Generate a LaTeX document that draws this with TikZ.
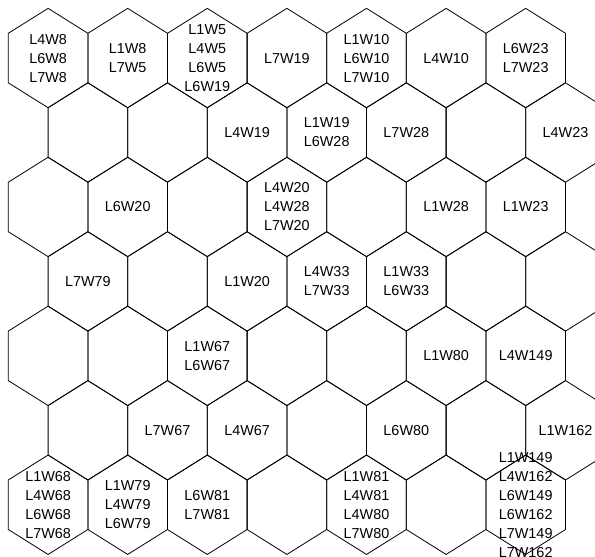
\documentclass[tikz,border=0pt]{standalone}
\usepackage{fontspec}
\setmainfont{Liberation Sans}
\begin{document}
\begin{tikzpicture}[x=1pt,y=-1pt,
  hexline/.style={draw=black,line width=0.8pt,line join=miter},
  lbl/.style={font=\fontsize{14.4}{19}\selectfont, align=center, inner sep=0pt, text=black}]
\useasboundingbox (0,0) rectangle (595,557);
\clip (0,0) rectangle (595,557);
\foreach \r in {0,...,6} {
  \foreach \k in {0,...,6} {
    \pgfmathsetmacro{\cy}{58.05+74.45*\r}
    \pgfmathsetmacro{\cx}{48.1+79.6*\k+39.8*mod(\r,2)}
    \draw[hexline] (\cx,\cy-49.7) -- (\cx+39.8,\cy-24.75) -- (\cx+39.8,\cy+24.75)
      -- (\cx,\cy+49.7) -- (\cx-39.8,\cy+24.75) -- (\cx-39.8,\cy-24.75) -- cycle;
  }
}
% row 0
\node[lbl] (h00) at (48.1,58.05) {L4W8\\L6W8\\L7W8};
\node[lbl] (h01) at (127.7,58.05) {L1W8\\L7W5};
\node[lbl] (h02) at (207.3,58.05) {L1W5\\L4W5\\L6W5\\L6W19};
\node[lbl] (h03) at (286.9,58.05) {L7W19};
\node[lbl] (h04) at (366.5,58.05) {L1W10\\L6W10\\L7W10};
\node[lbl] (h05) at (446.1,58.05) {L4W10};
\node[lbl] (h06) at (525.7,58.05) {L6W23\\L7W23};
% row 1
\node[lbl] (h12) at (247.1,132.5) {L4W19};
\node[lbl] (h13) at (326.7,132.5) {L1W19\\L6W28};
\node[lbl] (h14) at (406.3,132.5) {L7W28};
\node[lbl] (h16) at (565.5,132.5) {L4W23};
% row 2
\node[lbl] (h21) at (127.7,206.95) {L6W20};
\node[lbl] (h23) at (286.9,206.95) {L4W20\\L4W28\\L7W20};
\node[lbl] (h25) at (446.1,206.95) {L1W28};
\node[lbl] (h26) at (525.7,206.95) {L1W23};
% row 3
\node[lbl] (h30) at (87.9,281.4) {L7W79};
\node[lbl] (h32) at (247.1,281.4) {L1W20};
\node[lbl] (h33) at (326.7,281.4) {L4W33\\L7W33};
\node[lbl] (h34) at (406.3,281.4) {L1W33\\L6W33};
% row 4
\node[lbl] (h42) at (207.3,355.85) {L1W67\\L6W67};
\node[lbl] (h45) at (446.1,355.85) {L1W80};
\node[lbl] (h46) at (525.7,355.85) {L4W149};
% row 5
\node[lbl] (h51) at (167.5,430.3) {L7W67};
\node[lbl] (h52) at (247.1,430.3) {L4W67};
\node[lbl] (h54) at (406.3,430.3) {L6W80};
\node[lbl] (h56) at (565.5,430.3) {L1W162};
% row 6
\node[lbl] (h60) at (48.1,504.75) {L1W68\\L4W68\\L6W68\\L7W68};
\node[lbl] (h61) at (127.7,504.75) {L1W79\\L4W79\\L6W79};
\node[lbl] (h62) at (207.3,504.75) {L6W81\\L7W81};
\node[lbl] (h64) at (366.5,504.75) {L1W81\\L4W81\\L4W80\\L7W80};
\node[lbl] (h66) at (525.7,504.75) {L1W149\\L4W162\\L6W149\\L6W162\\L7W149\\L7W162};
\end{tikzpicture}
\end{document}
